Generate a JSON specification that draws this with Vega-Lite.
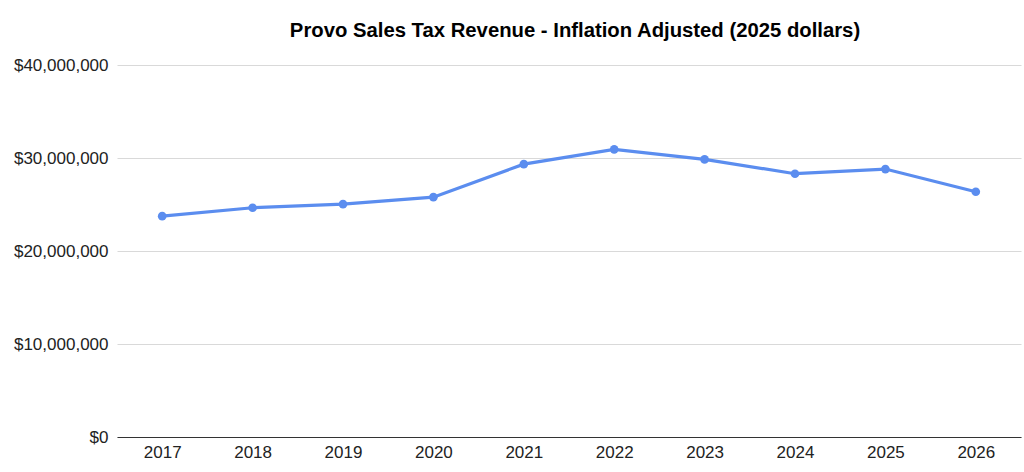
{
  "$schema": "https://vega.github.io/schema/vega-lite/v6.json",
  "width": 904,
  "height": 372,
  "autosize": {"type": "none"},
  "padding": {"left": 117, "top": 65, "right": 3, "bottom": 35},
  "background": "white",
  "title": {
    "text": "Provo Sales Tax Revenue - Inflation Adjusted (2025 dollars)",
    "font": "Liberation Sans",
    "fontSize": 20.3,
    "fontWeight": "bold",
    "color": "#000000",
    "anchor": "middle",
    "offset": 15,
    "dx": 6
  },
  "config": {
    "view": {"stroke": null},
    "axis": {"labelFont": "Liberation Sans", "labelFontSize": 17, "labelColor": "#222222"}
  },
  "data": {
    "values": [
      {"year": "2017", "revenue": 23750000},
      {"year": "2018", "revenue": 24650000},
      {"year": "2019", "revenue": 25040000},
      {"year": "2020", "revenue": 25790000},
      {"year": "2021", "revenue": 29340000},
      {"year": "2022", "revenue": 30930000},
      {"year": "2023", "revenue": 29850000},
      {"year": "2024", "revenue": 28310000},
      {"year": "2025", "revenue": 28810000},
      {"year": "2026", "revenue": 26370000}
    ]
  },
  "encoding": {
    "x": {
      "field": "year",
      "type": "ordinal",
      "scale": {"type": "point", "padding": 0.5},
      "axis": {
        "title": null,
        "labelAngle": 0,
        "ticks": false,
        "domain": true,
        "domainColor": "#333333",
        "domainWidth": 1,
        "labelPadding": 7,
        "grid": false
      }
    },
    "y": {
      "field": "revenue",
      "type": "quantitative",
      "scale": {"domain": [0, 40000000]},
      "axis": {
        "title": null,
        "values": [0, 10000000, 20000000, 30000000, 40000000],
        "format": "$,.0f",
        "ticks": false,
        "domain": false,
        "grid": true,
        "gridColor": "#d9d9d9",
        "labelPadding": 9
      }
    }
  },
  "layer": [
    {
      "mark": {"type": "line", "color": "#5b8def", "strokeWidth": 3.2}
    },
    {
      "mark": {"type": "point", "filled": true, "color": "#5b8def", "size": 75, "opacity": 1}
    }
  ]
}
